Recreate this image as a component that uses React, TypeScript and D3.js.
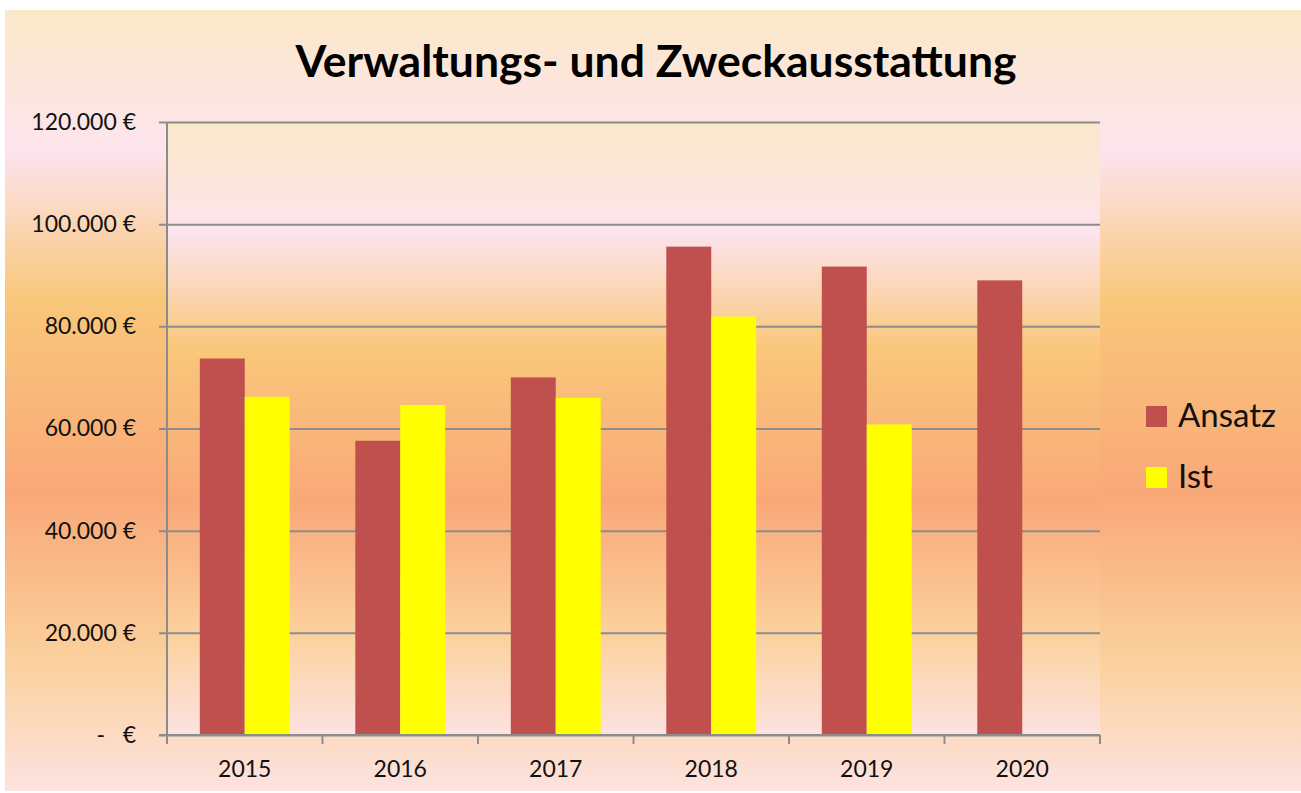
import React, { useRef, useEffect } from "react";
import * as d3 from "d3";

const YEARS = ["2015", "2016", "2017", "2018", "2019", "2020"];
const SERIES = ["Ansatz", "Ist"];
const ANSATZ = [73700, 57600, 70000, 95600, 91700, 89000];
const IST: (number | null)[] = [66200, 64600, 66000, 81900, 60800, null];
const Y_TICKS = [0, 20000, 40000, 60000, 80000, 100000, 120000];
const COLORS = ["#C0504D", "#FFFF00"];

// Office-artiger Verlauf (Hintergrund und Zeichenfläche)
const GRADIENT = [
    { offset: 0, color: "#FBE8C8" },
    { offset: 0.18, color: "#FDE4EE" },
    { offset: 0.37, color: "#F9C77A" },
    { offset: 0.62, color: "#F9A878" },
    { offset: 0.84, color: "#FBD29E" },
    { offset: 1, color: "#FDE2E0" },
];

const FONT = "Lato, 'Open Sans', sans-serif";

export default function App() {
    const svgRef = useRef<SVGSVGElement>(null);

    useEffect(() => {
        const width = 1301, height = 793;
        const plot = { left: 167, right: 1100, top: 122, bottom: 735 };

        const svg = d3.select(svgRef.current);
        svg.selectAll("*").remove();

        const defs = svg.append("defs");
        const grad = defs.append("linearGradient")
            .attr("id", "bg")
            .attr("x1", 0).attr("y1", 0).attr("x2", 0).attr("y2", 1);
        grad.selectAll("stop")
            .data(GRADIENT)
            .join("stop")
            .attr("offset", d => d.offset)
            .attr("stop-color", d => d.color);

        svg.append("rect")
            .attr("width", width).attr("height", height)
            .attr("fill", "#fff");
        svg.append("rect")
            .attr("x", 5).attr("y", 10)
            .attr("width", width - 5).attr("height", 781)
            .attr("fill", "url(#bg)");
        svg.append("rect")
            .attr("x", plot.left).attr("y", plot.top)
            .attr("width", plot.right - plot.left).attr("height", plot.bottom - plot.top)
            .attr("fill", "url(#bg)");

        const x = d3.scaleBand<string>()
            .domain(YEARS)
            .range([plot.left, plot.right])
            .padding(0);
        const xInner = d3.scaleBand<string>()
            .domain(SERIES)
            .range([0, x.bandwidth()])
            .paddingInner(0)
            .paddingOuter(0.73);
        const y = d3.scaleLinear()
            .domain([0, 120000])
            .range([plot.bottom, plot.top]);

        const de = d3.formatLocale({
            decimal: ",",
            thousands: ".",
            grouping: [3],
            currency: ["", " €"],
        });
        const fmt = (v: number) => (v === 0 ? "-   €" : de.format(",.0f")(v) + " €");

        // Gitterlinien + Y-Achse
        const yAxis = svg.append("g")
            .attr("transform", `translate(${plot.left},0)`)
            .call(d3.axisLeft(y).tickValues(Y_TICKS).tickSize(8).tickPadding(23).tickFormat(d => fmt(+d)));
        yAxis.select(".domain").remove();
        yAxis.selectAll(".tick line")
            .attr("x2", plot.right - plot.left)
            .attr("x1", -8)
            .attr("stroke", "#8C8C8C")
            .attr("stroke-width", 2);
        yAxis.selectAll("text")
            .style("font-family", FONT)
            .style("font-size", "23px")
            .style("white-space", "pre")
            .attr("fill", "#111");
        yAxis.attr("font-family", null).attr("font-size", null);

        svg.append("line")
            .attr("x1", plot.left).attr("x2", plot.left)
            .attr("y1", plot.top).attr("y2", plot.bottom)
            .attr("stroke", "#8C8C8C").attr("stroke-width", 2);

        // Balken
        const rows = YEARS.flatMap((yr, i) => [
            { year: yr, key: "Ansatz", value: ANSATZ[i] },
            { year: yr, key: "Ist", value: IST[i] },
        ]).filter(d => d.value != null) as { year: string; key: string; value: number }[];

        svg.append("g")
            .selectAll("rect")
            .data(rows)
            .join("rect")
            .attr("x", d => (x(d.year) ?? 0) + (xInner(d.key) ?? 0))
            .attr("y", d => y(d.value))
            .attr("width", xInner.bandwidth())
            .attr("height", d => y(0) - y(d.value))
            .attr("fill", d => COLORS[SERIES.indexOf(d.key)]);

        // X-Achse
        const bounds = [...YEARS.map(d => x(d) ?? 0), plot.right];
        svg.append("line")
            .attr("x1", plot.left - 8).attr("x2", plot.right)
            .attr("y1", plot.bottom).attr("y2", plot.bottom)
            .attr("stroke", "#8C8C8C").attr("stroke-width", 2);
        svg.append("g")
            .selectAll("line")
            .data(bounds)
            .join("line")
            .attr("x1", d => d).attr("x2", d => d)
            .attr("y1", plot.bottom).attr("y2", plot.bottom + 9)
            .attr("stroke", "#8C8C8C").attr("stroke-width", 2);
        svg.append("g")
            .selectAll("text")
            .data(YEARS)
            .join("text")
            .attr("x", d => (x(d) ?? 0) + x.bandwidth() / 2)
            .attr("y", 777)
            .attr("text-anchor", "middle")
            .style("font-family", FONT)
            .style("font-size", "23px")
            .attr("fill", "#111")
            .text(d => d);

        // Titel
        svg.append("text")
            .attr("x", 656)
            .attr("y", 77)
            .attr("text-anchor", "middle")
            .style("font-family", FONT)
            .style("font-size", "44.5px")
            .style("font-weight", 700)
            .attr("fill", "#000")
            .text("Verwaltungs- und Zweckausstattung");

        // Legende
        const legend = svg.append("g").attr("transform", "translate(1146,406)");
        SERIES.forEach((s, i) => {
            legend.append("rect")
                .attr("x", 0).attr("y", i * 61)
                .attr("width", 21).attr("height", 21)
                .attr("fill", COLORS[i]);
            legend.append("text")
                .attr("x", 32).attr("y", i * 61 + 21)
                .style("font-family", FONT)
                .style("font-size", "33px")
                .attr("fill", "#111")
                .text(s);
        });
    }, []);

    return (
        <svg
            ref={svgRef}
            width={1301}
            height={793}
            style={{ position: "absolute", left: 0, top: 0, display: "block" }}
        />
    );
}
